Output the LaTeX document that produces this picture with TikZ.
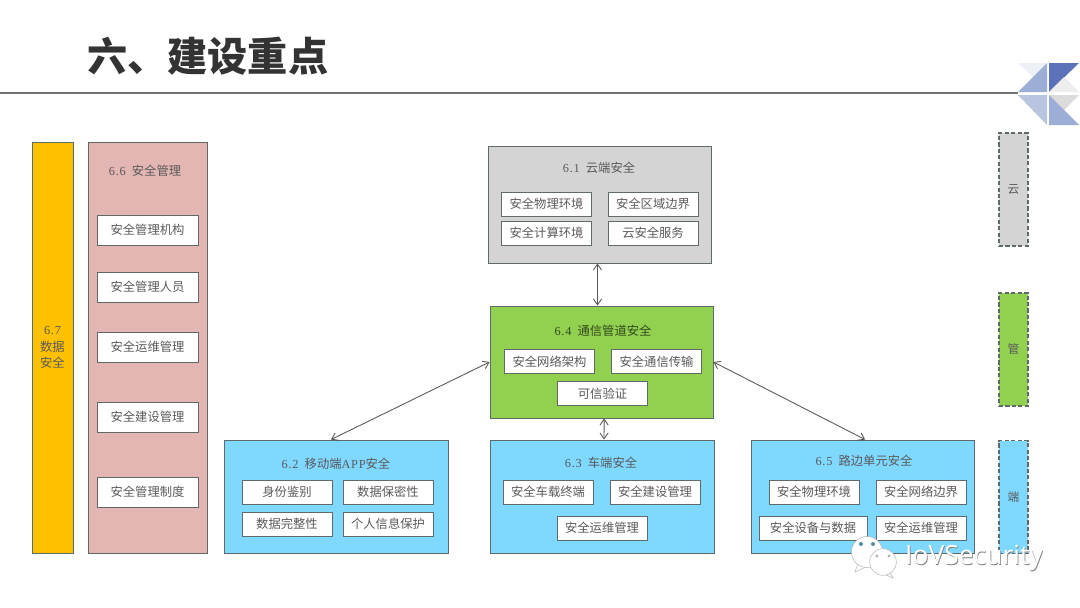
\documentclass[tikz,border=0pt]{standalone}
\usepackage{fontspec}
\setmainfont{Noto Sans CJK SC}
\newfontfamily\numfont[LetterSpace=6]{Liberation Serif}
\newfontfamily\markfont{Open Sans}
\usetikzlibrary{calc,arrows.meta}
\definecolor{panelgrey}{HTML}{D4D4D4}
\definecolor{panelgreen}{HTML}{92D050}
\definecolor{panelblue}{HTML}{7FD8FF}
\definecolor{panelpink}{HTML}{E3B5B3}
\definecolor{panelorange}{HTML}{FFC000}
\definecolor{edgegrey}{HTML}{606A6A}
\definecolor{inktext}{HTML}{5A5A5A}
\definecolor{logodark}{HTML}{5B72B8}
\definecolor{logomid}{HTML}{9DAED6}
\definecolor{logosoft}{HTML}{B8C4E0}
\definecolor{logopale}{HTML}{EEF0F8}
\newcommand{\num}[1]{{\numfont #1}}
\begin{document}
\begin{tikzpicture}[
     x=0.03cm,y=-0.03cm,
     panel/.style={rectangle,draw=edgegrey,line width=0.75pt,inner sep=0pt},
     item/.style={panel,fill=white,minimum width=2.7cm,minimum height=0.72cm,
       text=inktext,font=\fontsize{10.5}{12}\selectfont},
     sideitem/.style={item,minimum width=3.03cm,minimum height=0.9cm},
     head/.style={text=inktext,inner sep=0pt,font=\fontsize{10.5}{12}\selectfont},
     tier/.style={panel,dash pattern=on 3.5pt off 2pt,line width=1pt,minimum width=0.87cm,minimum height=3.39cm,
       text=inktext,font=\fontsize{10}{12}\selectfont},
     link/.style={{Straight Barb[length=5pt,width=7pt]}-{Straight Barb[length=5pt,width=7pt]},draw=black!65,line width=0.75pt}
   ]
   \path[use as bounding box] (0,0) rectangle (1080,607);
   % Title.
   \node[inner sep=0pt,anchor=west,text=black!80,font=\fontsize{34.3}{40}\selectfont\bfseries] (title) at (87,56) {六、建设重点};
   \coordinate (ruleL) at (0,93);
   \coordinate (ruleR) at (1018,93);
   \draw[black!55,line width=1.5pt] (ruleL) -- (ruleR);
   % Logo.
   \fill[logopale] (1018,63) -- (1047,63) -- (1033,77) -- cycle;
   \fill[logomid] (1047,63) -- (1047,92) -- (1018,92) -- cycle;
   \fill[logodark] (1049,63) -- (1079,63) -- (1049,92) -- cycle;
   \fill[black!7] (1064,77) -- (1079,92) -- (1049,92) -- cycle;
   \fill[logosoft] (1018,95) -- (1047,95) -- (1047,125) -- cycle;
   \fill[black!14] (1049,95) -- (1079,95) -- (1064,110) -- cycle;
   \fill[logomid] (1049,95) -- (1079,125) -- (1049,125) -- cycle;
   % Side columns.
   \node[panel,fill=panelorange,minimum width=1.23cm,minimum height=12.33cm,align=center,
     text=inktext,font=\fontsize{10.5}{14}\selectfont] (data) at (52.5,347.5) {\num{6.7}\\数据\\安全};
   \node[panel,fill=panelpink,minimum width=3.57cm,minimum height=12.33cm] (mgmt) at (147.5,347.5) {};
   \node[head] (mgmthead) at (145,171) {\num{6.6}\enskip 安全管理};
   \node[sideitem] (m1) at (147.5,230) {安全管理机构};
   \node[sideitem] (m2) at (147.5,287) {安全管理人员};
   \node[sideitem] (m3) at (147.5,347) {安全运维管理};
   \node[sideitem] (m4) at (147.5,417) {安全建设管理};
   \node[sideitem] (m5) at (147.5,492) {安全管理制度};
   % Cloud.
   \node[panel,fill=panelgrey,minimum width=6.69cm,minimum height=3.51cm] (cloud) at (599.5,204.5) {};
   \node[head] (cloudhead) at (599,168) {\num{6.1}\enskip 云端安全};
   \node[item] (c1) at (546.5,204) {安全物理环境};
   \node[item] (c2) at (653,204) {安全区域边界};
   \node[item] (c3) at (546.5,233) {安全计算环境};
   \node[item] (c4) at (653,233) {云安全服务};
   % Channel.
   \node[panel,fill=panelgreen,minimum width=6.69cm,minimum height=3.36cm] (pipe) at (601.5,362) {};
   \node[head,text=black!65!panelgreen] (pipehead) at (603,331) {\num{6.4}\enskip 通信管道安全};
   \node[item] (p1) at (549.5,361.5) {安全网络架构};
   \node[item] (p2) at (656.5,361.5) {安全通信传输};
   \node[item] (p3) at (602.5,393.5) {可信验证};
   % App.
   \node[panel,fill=panelblue,minimum width=6.72cm,minimum height=3.39cm] (app) at (336,496.5) {};
   \node[head] (apphead) at (336,464) {\num{6.2}\enskip 移动端{\numfont APP}安全};
   \node[item] (a1) at (287,492) {身份鉴别};
   \node[item] (a2) at (388,492) {数据保密性};
   \node[item] (a3) at (287,524) {数据完整性};
   \node[item] (a4) at (388,524) {个人信息保护};
   % Vehicle.
   \node[panel,fill=panelblue,minimum width=6.72cm,minimum height=3.39cm] (car) at (602,496.5) {};
   \node[head] (carhead) at (601,463) {\num{6.3}\enskip 车端安全};
   \node[item] (v1) at (548,492) {安全车载终端};
   \node[item] (v2) at (655,492) {安全建设管理};
   \node[item] (v3) at (602,528) {安全运维管理};
   % Roadside.
   \node[panel,fill=panelblue,minimum width=6.69cm,minimum height=3.39cm] (road) at (862.5,496.5) {};
   \node[head] (roadhead) at (864,461) {\num{6.5}\enskip 路边单元安全};
   \node[item] (r1) at (814,492) {安全物理环境};
   \node[item] (r2) at (921,492) {安全网络边界};
   \node[item,minimum width=3.24cm] (r3) at (813,528) {安全设备与数据};
   \node[item] (r4) at (921,528) {安全运维管理};
   % Tiers.
   \node[tier,fill=panelgrey] (tiercloud) at (1013.5,189.5) {云};
   \node[tier,fill=panelgreen] (tierpipe) at (1013.5,349.5) {管};
   \node[tier,fill=panelblue] (tierend) at (1013.5,497) {端};
   % Links.
   \draw[link] ([xshift=-0.06cm]cloud.south) -- ([xshift=-0.12cm]pipe.north);
   \draw[link] ([xshift=0.08cm]pipe.south) -- ([xshift=0.06cm]car.north);
   \draw[link] (pipe.west) -- ([xshift=-0.15cm]app.north);
   \draw[link] (pipe.east) -- ([xshift=0.08cm]road.north);
   % Watermark.
   \fill[white,draw=black!30] (858,563) -- (855,572) -- (868,566) -- cycle;
   \node[circle,draw=black!30,fill=white,minimum size=0.93cm,inner sep=0pt] (bubbleA) at (867,552) {};
   \fill[white,draw=black!30] (890,572) -- (893,578) -- (884,574) -- cycle;
   \node[circle,draw=black!30,fill=white,minimum size=0.8cm,inner sep=0pt] (bubbleB) at (883,562) {};
   \foreach \ex/\ey in {861/544,873/544}
     \fill[black!35!panelblue] (\ex,\ey) circle (0.06cm);
   \foreach \ex/\ey in {877/556,889/556}
     \fill[black!30] (\ex,\ey) circle (0.05cm);
   \node[inner sep=0pt,anchor=west,text=black!50,font=\markfont\fontsize{22.6}{26}\selectfont] (markshade) at (905.7,558.7) {IoVSecurity};
   \node[inner sep=0pt,anchor=west,text=white,font=\markfont\fontsize{22.6}{26}\selectfont] (mark) at (905,558) {IoVSecurity};
 \end{tikzpicture}
\end{document}
